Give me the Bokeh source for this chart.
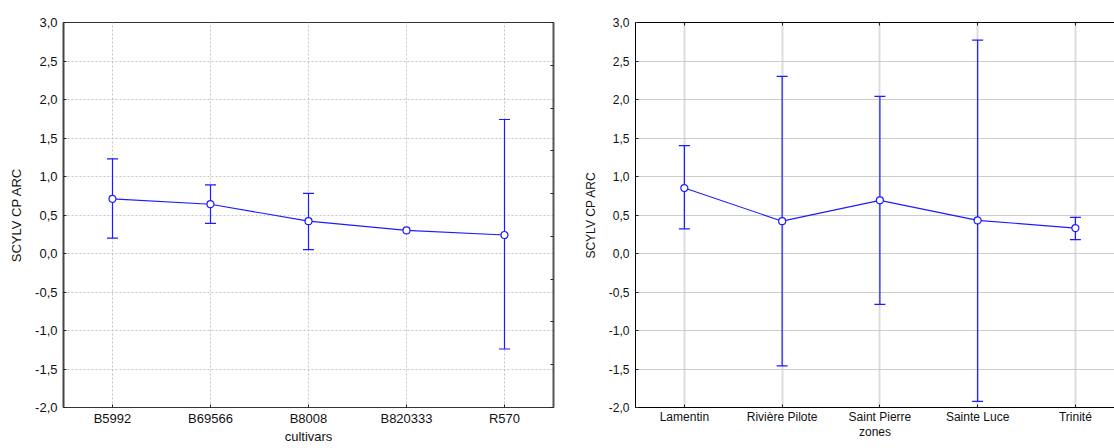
import math

from bokeh.plotting import figure
from bokeh.layouts import row
from bokeh.models import (FixedTicker, CustomJSTickFormatter, LinearAxis,
                          Range1d)
from bokeh.embed import file_html
from bokeh.resources import INLINE

NaN = math.nan

# Means with confidence limits, by cultivar
cultivars = ["B5992", "B69566", "B8008", "B820333", "R570"]
cultivar_mean = [0.71, 0.64, 0.42, 0.30, 0.24]
cultivar_upper = [1.23, 0.89, 0.78, NaN, 1.74]
cultivar_lower = [0.20, 0.39, 0.05, NaN, -1.24]

# Means with confidence limits, by zone
zones = ["Lamentin", "Rivière Pilote", "Saint Pierre", "Sainte Luce", "Trinité"]
zone_mean = [0.85, 0.42, 0.69, 0.43, 0.33]
zone_upper = [1.40, 2.30, 2.04, 2.77, 0.47]
zone_lower = [0.32, -1.46, -0.66, -1.92, 0.18]

y_ticks = [-2.0, -1.5, -1.0, -0.5, 0.0, 0.5, 1.0, 1.5, 2.0, 2.5, 3.0]
y_title = "SCYLV CP ARC"

FONT = "Liberation Sans"
BLUE = "#1c1cff"

comma_fmt = CustomJSTickFormatter(code="return tick.toFixed(1).replace('.', ',');")


def draw_series(p, labels, mean, upper, lower):
    xs = list(range(len(labels)))
    p.segment(x0=xs, y0=lower, x1=xs, y1=upper, line_color=BLUE, line_width=1.2)
    p.scatter(xs, upper, marker="dash", size=11, line_color=BLUE, line_width=1.2)
    p.scatter(xs, lower, marker="dash", size=11, line_color=BLUE, line_width=1.2)
    p.line(xs, mean, line_color=BLUE, line_width=1.1)
    p.scatter(xs, mean, marker="circle", size=7, fill_color="white",
              line_color=BLUE, line_width=1.2)


def style_axes(p, labels, x_title, font_size):
    xs = list(range(len(labels)))
    xa = p.xaxis[0]
    xa.ticker = FixedTicker(ticks=xs)
    xa.formatter = CustomJSTickFormatter(args=dict(labels=labels),
                                         code="return labels[tick] || '';")
    xa.axis_label = x_title
    ya = p.yaxis[0]
    ya.ticker = FixedTicker(ticks=y_ticks)
    ya.formatter = comma_fmt
    ya.axis_label = y_title
    for ax in (xa, ya):
        ax.major_tick_in = 3
        ax.major_tick_out = 0
        ax.minor_tick_in = 0
        ax.minor_tick_out = 0
        ax.major_label_text_font = FONT
        ax.major_label_text_font_size = font_size
        ax.major_label_text_color = "#111111"
        ax.axis_label_text_font = FONT
        ax.axis_label_text_font_size = font_size
        ax.axis_label_text_font_style = "normal"
        ax.axis_label_text_color = "#111111"
        ax.major_tick_line_color = "#222222"
    xa.major_label_standoff = 3
    xa.axis_label_standoff = 0
    ya.major_label_standoff = 6
    ya.axis_label_standoff = 8


# ---- left panel: cultivars ----
left = figure(width=580, height=448, output_backend="svg", toolbar_location=None,
              x_range=Range1d(-0.5, 4.5), y_range=Range1d(-2.0, 3.0),
              min_border_left=63, min_border_right=27,
              min_border_top=20, min_border_bottom=41)
left.background_fill_color = "white"
left.border_fill_color = "white"
draw_series(left, cultivars, cultivar_mean, cultivar_upper, cultivar_lower)
style_axes(left, cultivars, "cultivars", "13px")
left.yaxis[0].axis_line_color = "#444444"
left.yaxis[0].axis_line_width = 2
left.xaxis[0].axis_line_color = "#333333"
left.outline_line_color = "#333333"
left.outline_line_width = 1
for g in (left.xgrid[0], left.ygrid[0]):
    g.grid_line_color = "#c4c4c4"
    g.grid_line_dash = "2 2"
    g.grid_line_width = 1
left.xgrid[0].ticker = FixedTicker(ticks=list(range(len(cultivars))))
left.ygrid[0].ticker = FixedTicker(ticks=y_ticks)

# unlabelled right-hand scale with nine divisions
left.extra_y_ranges = {"frame": Range1d(0, 9)}
right_scale = LinearAxis(y_range_name="frame",
                         ticker=FixedTicker(ticks=list(range(10))),
                         formatter=CustomJSTickFormatter(code="return '';"),
                         major_tick_in=3, major_tick_out=0,
                         minor_tick_in=0, minor_tick_out=0,
                         major_label_standoff=0,
                         axis_line_color="#555555", axis_line_width=2,
                         major_tick_line_color="#222222")
left.add_layout(right_scale, "right")

# ---- right panel: zones ----
right = figure(width=534, height=448, output_backend="svg", toolbar_location=None,
               x_range=Range1d(-0.5, 4.4), y_range=Range1d(-2.0, 3.0),
               min_border_left=49, min_border_right=0,
               min_border_top=22, min_border_bottom=38)
right.background_fill_color = "white"
right.border_fill_color = "white"
draw_series(right, zones, zone_mean, zone_upper, zone_lower)
style_axes(right, zones, "zones", "12px")
right.xaxis[0].major_label_standoff = 2
right.xaxis[0].axis_label_standoff = -2
right.yaxis[0].axis_line_color = "black"
right.xaxis[0].axis_line_color = "black"
right.outline_line_color = None
right.xgrid[0].grid_line_color = "#dcdcdc"
right.xgrid[0].grid_line_width = 2
right.ygrid[0].grid_line_color = "#cccccc"
right.ygrid[0].grid_line_width = 1
right.xgrid[0].ticker = FixedTicker(ticks=list(range(len(zones))))
right.ygrid[0].ticker = FixedTicker(ticks=y_ticks)

top_ticks = LinearAxis(ticker=FixedTicker(ticks=list(range(len(zones)))),
                       formatter=CustomJSTickFormatter(code="return '';"),
                       major_tick_in=3, major_tick_out=0,
                       minor_tick_in=0, minor_tick_out=0,
                       major_label_standoff=0,
                       axis_line_color="black", major_tick_line_color="#222222")
right.add_layout(top_ticks, "above")

layout = row(left, right, spacing=0)

with open("out.html", "w") as f:
    f.write(file_html(layout, INLINE))
